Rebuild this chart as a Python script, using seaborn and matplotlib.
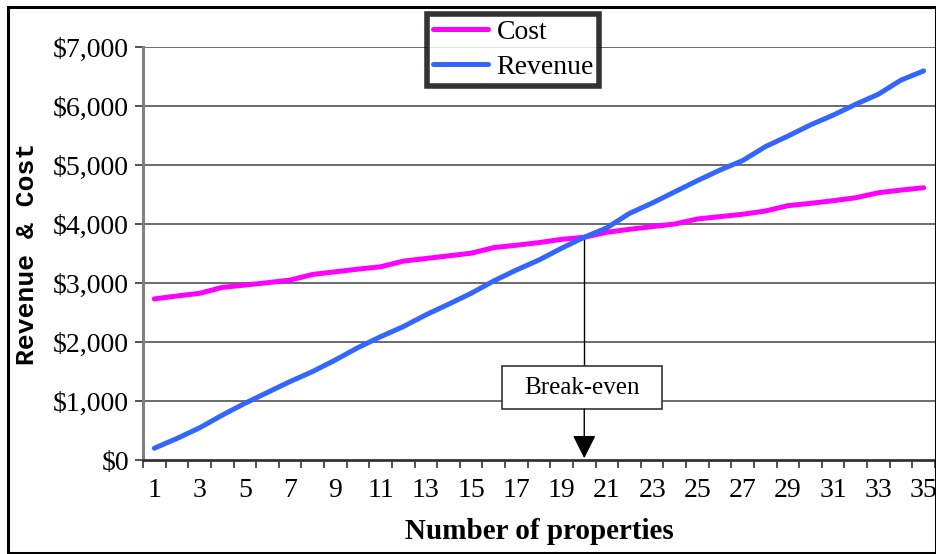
import matplotlib
matplotlib.use("Agg")
import matplotlib.pyplot as plt
import matplotlib.ticker as mticker
from matplotlib.patches import Rectangle
from matplotlib.lines import Line2D
import seaborn as sns
import pandas as pd

# Number of properties on the x axis
properties = list(range(1, 36))

# Total cost per number of properties ($)
cost = [2730, 2780, 2825, 2925, 2965, 3005, 3050, 3145, 3190, 3235,
        3275, 3370, 3415, 3460, 3505, 3600, 3640, 3685, 3740, 3775,
        3860, 3910, 3955, 4000, 4085, 4125, 4165, 4220, 4310, 4350,
        4395, 4445, 4530, 4575, 4615]

# Total revenue per number of properties ($)
revenue = [200, 365, 545, 760, 960, 1145, 1330, 1500, 1695, 1905,
           2090, 2260, 2460, 2640, 2825, 3035, 3220, 3390, 3590, 3775,
           3935, 4180, 4355, 4545, 4735, 4915, 5075, 5310, 5490, 5680,
           5845, 6030, 6200, 6440, 6595]

series_names = ["Cost", "Revenue"]
series_colors = ["#FF00FF", "#3366FF"]
y_ticks = [0, 1000, 2000, 3000, 4000, 5000, 6000, 7000]
x_tick_labels = [str(n) for n in range(1, 36, 2)]
break_even_at = 20

df = pd.DataFrame({
    "properties": properties * 2,
    "amount": cost + revenue,
    "series": ["Cost"] * len(cost) + ["Revenue"] * len(revenue),
})

sns.set_theme(style="white")
plt.rcParams["font.family"] = ["Liberation Serif", "DejaVu Serif"]

fig = plt.figure(figsize=(9.37, 5.54), dpi=100)
ax = fig.add_axes([143 / 937, 1 - 460 / 554, 792 / 937, 413 / 554])

sns.lineplot(data=df, x="properties", y="amount", hue="series",
             hue_order=series_names, palette=series_colors,
             linewidth=3.6, ax=ax, legend=False, zorder=4)

ax.set_xlim(0.5, 35.5)
ax.set_ylim(0, 7000)

# y axis: dollar ticks with horizontal grid lines
ax.set_yticks(y_ticks)
ax.yaxis.set_major_formatter(mticker.StrMethodFormatter("${x:,.0f}"))
for v in y_ticks[1:]:
    ax.axhline(v, color="#6a6a6a", lw=1.4, zorder=1)

# x axis: category axis, ticks between categories, labels on odd values
ax.set_xticks(range(1, 36, 2))
ax.set_xticklabels(x_tick_labels)
ax.set_xticks([i + 0.5 for i in range(0, 36)], minor=True)
ax.tick_params(axis="x", which="major", length=0, pad=13, labelsize=20)
ax.tick_params(axis="x", which="minor", length=6, width=1.2, color="#333333",
               direction="out", bottom=True)
ax.tick_params(axis="y", which="major", length=6, width=1.2, color="#333333",
               direction="out", left=True, pad=4, labelsize=20)
for lab in ax.get_xticklabels() + ax.get_yticklabels():
    lab.set_color("black")

for side in ["top", "right"]:
    ax.spines[side].set_visible(False)
ax.spines["left"].set_color("#808080")
ax.spines["left"].set_linewidth(2.2)
ax.spines["bottom"].set_color("#333333")
ax.spines["bottom"].set_linewidth(2.0)

ax.set_xlabel("Number of properties", fontsize=21, fontweight="bold",
              color="black", labelpad=11)
ax.set_ylabel("Revenue & Cost", fontsize=19, fontweight="bold",
              color="black", family=["Liberation Mono", "DejaVu Sans Mono"],
              labelpad=10)

# Break-even marker: drop line from the crossing point to the label box
be_idx = properties.index(break_even_at)
box_bottom, box_top = 864, 1593
ax.plot([break_even_at, break_even_at], [cost[be_idx], box_top],
        color="black", lw=1.0, zorder=3)
ax.add_patch(Rectangle((16.35, box_bottom), 7.1, box_top - box_bottom,
                       facecolor="white", edgecolor="#333333", lw=1.2,
                       zorder=5))
ax.text(break_even_at - 0.1, (box_bottom + box_top) / 2, "Break-even",
        ha="center", va="center", fontsize=18, color="black", zorder=6)
ax.annotate("", xy=(break_even_at, 30), xytext=(break_even_at, box_bottom),
            arrowprops=dict(arrowstyle="-|>,head_length=0.72,head_width=0.36",
                            mutation_scale=20, color="black", lw=1.0,
                            shrinkA=0, shrinkB=0),
            zorder=6)

# Legend with a heavy black frame
handles = [Line2D([0], [0], color=c, lw=3.6) for c in series_colors]
leg = fig.legend(handles, series_names, loc="upper left",
                 bbox_to_anchor=(427 / 937, 1 - 14 / 554),
                 frameon=True, fontsize=20, handlelength=2.0,
                 handletextpad=0.3, borderpad=0.2, labelspacing=0.35,
                 borderaxespad=0, fancybox=False)
leg.get_frame().set_edgecolor("black")
leg.get_frame().set_linewidth(4.0)
leg.get_frame().set_facecolor("white")
leg.set_zorder(10)
for t in leg.get_texts():
    t.set_color("black")

# Outer chart border
fig.patches.append(Rectangle((8 / 937, 1 - 553 / 554), 928 / 937, 546 / 554,
                             transform=fig.transFigure, fill=False,
                             edgecolor="black", lw=2.2, zorder=20))

fig.savefig("out.png", dpi=100)
